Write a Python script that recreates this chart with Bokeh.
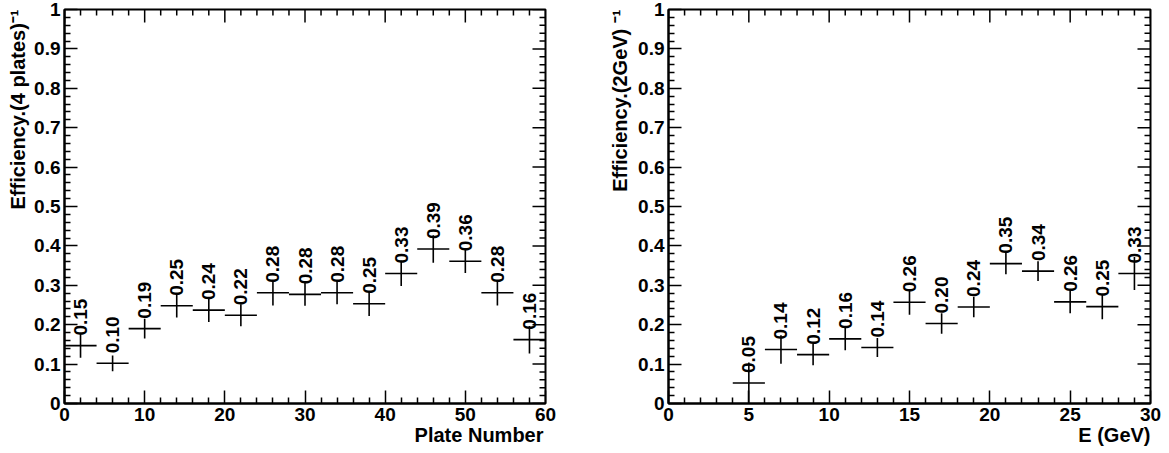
import numpy as np
from math import pi
from bokeh.plotting import figure
from bokeh.layouts import row
from bokeh.models import Range1d, LinearAxis, FixedTicker, Title, ColumnDataSource
from bokeh.core.properties import value
from bokeh.embed import file_html
from bokeh.resources import INLINE

# ---------------- data ----------------
# Left panel: efficiency per 4-plate bin
plate_centers = [2, 6, 10, 14, 18, 22, 26, 30, 34, 38, 42, 46, 50, 54, 58]
plate_half_width = 2
plate_eff = [0.147, 0.102, 0.190, 0.248, 0.237, 0.224, 0.281, 0.277, 0.281,
             0.253, 0.330, 0.392, 0.361, 0.281, 0.162]
plate_err = [0.031, 0.020, 0.025, 0.030, 0.030, 0.028, 0.032, 0.029, 0.029,
             0.031, 0.032, 0.035, 0.030, 0.032, 0.035]
plate_labels = ["0.15", "0.10", "0.19", "0.25", "0.24", "0.22", "0.28", "0.28",
                "0.28", "0.25", "0.33", "0.39", "0.36", "0.28", "0.16"]

# Right panel: efficiency per 2 GeV energy bin
energy_centers = [5, 7, 9, 11, 13, 15, 17, 19, 21, 23, 25, 27, 29]
energy_half_width = 1
energy_eff = [0.052, 0.137, 0.124, 0.164, 0.142, 0.257, 0.203, 0.245, 0.355,
              0.336, 0.258, 0.246, 0.330]
energy_err = [0.052, 0.036, 0.027, 0.029, 0.024, 0.032, 0.026, 0.026, 0.027,
              0.025, 0.029, 0.032, 0.042]
energy_labels = ["0.05", "0.14", "0.12", "0.16", "0.14", "0.26", "0.20", "0.24",
                 "0.35", "0.34", "0.26", "0.25", "0.33"]

left_xticks = [0, 10, 20, 30, 40, 50, 60]
right_xticks = [0, 5, 10, 15, 20, 25, 30]
y_ticks = [0, 0.1, 0.2, 0.3, 0.4, 0.5, 0.6, 0.7, 0.8, 0.9, 1.0]
y_tick_labels = ["0", "0.1", "0.2", "0.3", "0.4", "0.5", "0.6", "0.7", "0.8", "0.9", "1"]

left_ytitle = "Efficiency.(4 plates)\u207b\u00b9"
right_ytitle = "Efficiency.(2GeV) \u207b\u00b9"
left_xtitle = "Plate Number"
right_xtitle = "E (GeV)"

FONT = "Liberation Sans"
H = 453


def minor_of(ticks, n=5):
    out = []
    for a, b in zip(ticks[:-1], ticks[1:]):
        step = (b - a) / n
        out += [a + step * k for k in range(1, n)]
    return out


def make_axis(ticks, overrides=None):
    ax = LinearAxis(ticker=FixedTicker(ticks=ticks, minor_ticks=minor_of(ticks)),
                    axis_line_width=2, axis_line_color="black",
                    major_tick_in=13, major_tick_out=0,
                    minor_tick_in=6, minor_tick_out=0,
                    major_tick_line_width=1.5, minor_tick_line_width=1.5,
                    major_tick_line_color="black", minor_tick_line_color="black",
                    major_label_text_font=FONT, major_label_text_font_style="bold",
                    major_label_text_font_size="19px", major_label_text_color="black",
                    major_label_standoff=4)
    if overrides:
        ax.major_label_overrides = overrides
    return ax


def panel(width, bl, br, xmax, xticks, centers, hw, eff, err, labels,
          ytitle, ytitle_standoff, xtitle, xtitle_offset):
    p = figure(width=width, height=H, x_range=Range1d(0, xmax), y_range=Range1d(0, 1),
               output_backend="svg", toolbar_location=None,
               x_axis_location=None, y_axis_location=None,
               min_border_left=bl, min_border_right=br,
               min_border_top=9, min_border_bottom=H - 403)
    p.xgrid.visible = False
    p.ygrid.visible = False
    p.outline_line_color = "black"
    p.outline_line_width = 2
    p.background_fill_color = "white"
    p.border_fill_color = "white"

    yover = {t: l for t, l in zip(y_ticks, y_tick_labels)}
    p.add_layout(make_axis(xticks), "below")
    p.add_layout(make_axis(y_ticks, yover), "left")

    # ticks on the top and right edges of the frame (pointing inwards)
    xminor = minor_of(xticks)
    yminor = minor_of(y_ticks)
    p.ray(x=xticks, y=[1] * len(xticks), length=13, length_units="screen",
          angle=-pi / 2, line_color="black", line_width=1.5)
    p.ray(x=xminor, y=[1] * len(xminor), length=6, length_units="screen",
          angle=-pi / 2, line_color="black", line_width=1.5)
    p.ray(x=[xmax] * len(y_ticks), y=y_ticks, length=13, length_units="screen",
          angle=pi, line_color="black", line_width=1.5)
    p.ray(x=[xmax] * len(yminor), y=yminor, length=6, length_units="screen",
          angle=pi, line_color="black", line_width=1.5)

    src = ColumnDataSource(dict(
        x=centers, y=eff, lab=labels,
        x0=[c - hw for c in centers], x1=[c + hw for c in centers],
        ylo=[v - e for v, e in zip(eff, err)], yhi=[v + e for v, e in zip(eff, err)]))
    p.segment(x0="x0", x1="x1", y0="y", y1="y", source=src,
              line_color="black", line_width=1.6)
    p.segment(x0="x", x1="x", y0="ylo", y1="yhi", source=src,
              line_color="black", line_width=1.6)
    p.text(x="x", y="y", text="lab", source=src, angle=pi / 2,
           text_align="left", text_baseline="middle", y_offset=-10,
           text_font=value(FONT), text_font_style="bold",
           text_font_size="19px", text_color="black")

    p.add_layout(Title(text=ytitle, align="right", vertical_align="bottom",
                       offset=0, standoff=ytitle_standoff,
                       text_font=FONT, text_font_style="bold",
                       text_font_size="20px", text_color="black"), "left")
    p.add_layout(Title(text=xtitle, align="right", vertical_align="top",
                       offset=xtitle_offset, standoff=0,
                       text_font=FONT, text_font_style="bold",
                       text_font_size="20px", text_color="black"), "below")
    return p


p1 = panel(598, 64, 53, 60, left_xticks, plate_centers, plate_half_width,
           plate_eff, plate_err, plate_labels, left_ytitle, 5, left_xtitle, 2)
p2 = panel(571, 70, 19, 30, right_xticks, energy_centers, energy_half_width,
           energy_eff, energy_err, energy_labels, right_ytitle, 9, right_xtitle, 0)

layout = row(p1, p2)
open("out.html", "w").write(file_html(layout, INLINE))
